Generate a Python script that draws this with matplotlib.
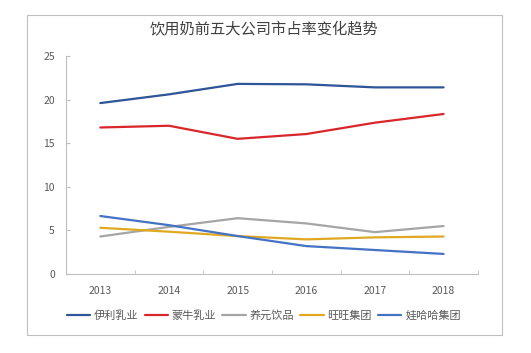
import matplotlib
matplotlib.use("Agg")
import matplotlib.pyplot as plt
from matplotlib.patches import Rectangle

plt.rcParams['font.family'] = ['Noto Sans CJK SC', 'DejaVu Sans']

years = ["2013", "2014", "2015", "2016", "2017", "2018"]
yili = [19.6, 20.6, 21.8, 21.75, 21.4, 21.4]
mengniu = [16.8, 17.0, 15.5, 16.05, 17.35, 18.35]
yangyuan = [4.3, 5.4, 6.4, 5.8, 4.8, 5.5]
wangwang = [5.3, 4.85, 4.35, 3.97, 4.2, 4.3]
wahaha = [6.65, 5.6, 4.35, 3.2, 2.75, 2.3]

series_names = ["伊利乳业", "蒙牛乳业", "养元饮品", "旺旺集团", "娃哈哈集团"]
series_vals = [yili, mengniu, yangyuan, wangwang, wahaha]
colors = ["#2E5597", "#D9262B", "#A5A5A5", "#E0A820", "#4472C4"]

fig = plt.figure(figsize=(5.31, 3.53), dpi=100)
fig.patch.set_facecolor("white")
fig.add_artist(Rectangle((0.0508, 0.051), 0.8946, 0.9065, transform=fig.transFigure,
                         fill=False, edgecolor="#BFBFBF", linewidth=0.8))

ax = fig.add_axes([0.1243, 0.2238, 0.7757, 0.6176])
x = list(range(len(years)))
for name, vals, c in zip(series_names, series_vals, colors):
    ax.plot(x, vals, color=c, linewidth=1.6, label=name, solid_capstyle='round')

ax.set_xlim(-0.5, len(years) - 0.5)
ax.set_ylim(0, 25)
ax.set_yticks([0, 5, 10, 15, 20, 25])
ax.set_xticks(x)
ax.set_xticklabels(years)
ax.set_xticks([i - 0.5 for i in range(len(years) + 1)], minor=True)
ax.tick_params(axis='x', which='major', length=0, pad=9, labelsize=7.5, labelcolor="#595959")
ax.tick_params(axis='x', which='minor', direction='in', length=3, color="#BFBFBF")
ax.tick_params(axis='y', direction='in', length=3, color="#BFBFBF", labelsize=7.5,
               labelcolor="#595959", pad=8)
for s in ['top', 'right']:
    ax.spines[s].set_visible(False)
for s in ['left', 'bottom']:
    ax.spines[s].set_color("#BFBFBF")
    ax.spines[s].set_linewidth(0.8)

fig.text(0.497, 0.915, "饮用奶前五大公司市占率变化趋势", ha='center', va='center',
         fontsize=11, color="#404040")

fig.legend(loc='center', bbox_to_anchor=(0.497, 0.105), ncol=5, frameon=False,
           fontsize=8, handlelength=2.1, columnspacing=0.55, handletextpad=0.35,
           labelcolor="#595959")

fig.savefig("out.png", dpi=100, facecolor="white")
